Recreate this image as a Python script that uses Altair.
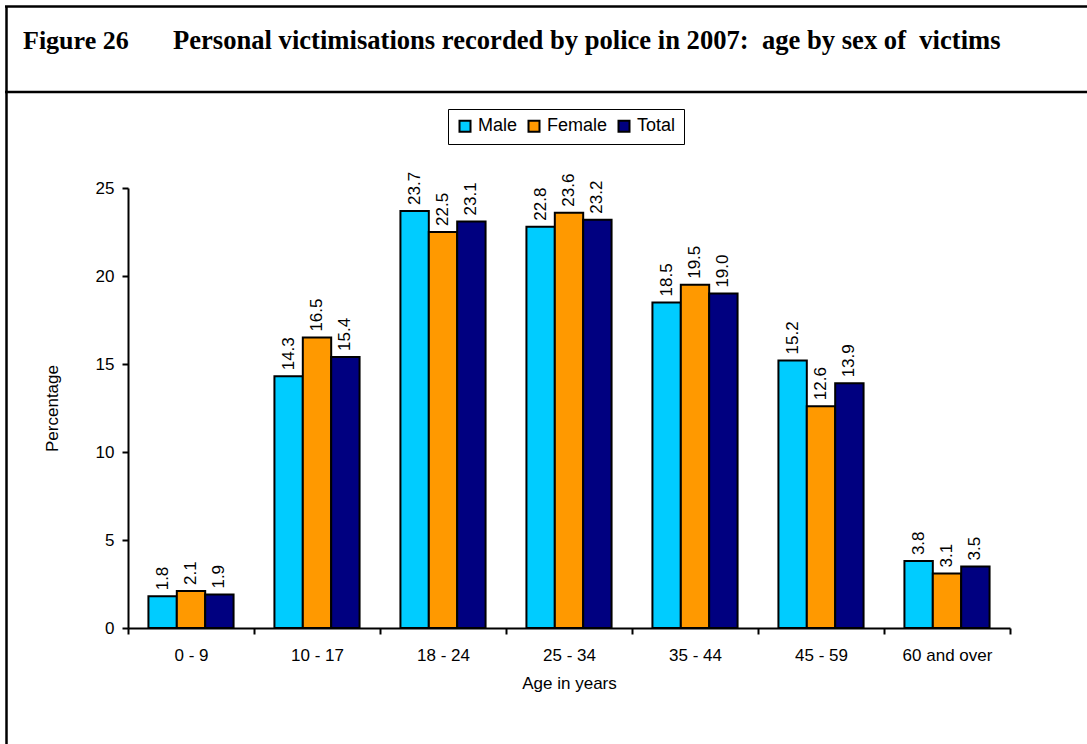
import altair as alt
import pandas as pd

ages = ["0 - 9", "10 - 17", "18 - 24", "25 - 34", "35 - 44", "45 - 59", "60 and over"]
series = ["Male", "Female", "Total"]
male = [1.8, 14.3, 23.7, 22.8, 18.5, 15.2, 3.8]
female = [2.1, 16.5, 22.5, 23.6, 19.5, 12.6, 3.1]
total = [1.9, 15.4, 23.1, 23.2, 19.0, 13.9, 3.5]
colors = ["#00CCFF", "#FF9900", "#000080"]
y_ticks = [0, 5, 10, 15, 20, 25]

rows = []
for s, vals in zip(series, [male, female, total]):
    for a, v in zip(ages, vals):
        rows.append({"age": a, "series": s, "value": v, "label": f"{v:.1f}"})
df = pd.DataFrame(rows)

FONT = "Liberation Sans"
NB = "\u00a0"

x_enc = alt.X("age:N", sort=ages,
              scale=alt.Scale(paddingInner=0, paddingOuter=0),
              axis=alt.Axis(title="Age in years", labelAngle=0, tickBand="extent",
                            labelPadding=13, titlePadding=12))
xo_enc = alt.XOffset("series:N", sort=series,
                     scale=alt.Scale(paddingInner=0, paddingOuter=0.72))
y_enc = alt.Y("value:Q", scale=alt.Scale(domain=[0, 25], nice=False),
              axis=alt.Axis(title="Percentage", values=y_ticks, grid=False,
                            labelPadding=8, titlePadding=34))

bars = alt.Chart(df).mark_bar(stroke="black", strokeWidth=2).encode(
    x=x_enc, xOffset=xo_enc, y=y_enc,
    color=alt.Color("series:N", sort=series,
                    scale=alt.Scale(domain=series, range=colors),
                    legend=alt.Legend(title=None, orient="none", direction="horizontal",
                                      legendX=320, legendY=-79,
                                      symbolType="square", symbolSize=121,
                                      symbolStrokeColor="black", symbolStrokeWidth=2,
                                      symbolOpacity=1,
                                      labelFontSize=18, labelFont=FONT, labelColor="black",
                                      labelOffset=4, columnPadding=6,
                                      strokeColor="black", padding=8,
                                      fillColor="white")),
)

labels = alt.Chart(df).mark_text(angle=270, align="left", baseline="middle", dx=6,
                                 fontSize=17, font=FONT, color="black").encode(
    x=alt.X("age:N", sort=ages), xOffset=alt.XOffset("series:N", sort=series),
    y="value:Q", text="label:N")

one = pd.DataFrame({"a": [0]})
left_line = alt.Chart(one).mark_rule(color="black", strokeWidth=2.5).encode(
    x=alt.value(-121.5), y=alt.value(-182), y2=alt.value(560))
top_line = alt.Chart(one).mark_rule(color="black", strokeWidth=2.5).encode(
    x=alt.value(-123), x2=alt.value(965), y=alt.value(-181.5))
sep_line = alt.Chart(one).mark_rule(color="black", strokeWidth=2.5).encode(
    x=alt.value(-123), x2=alt.value(965), y=alt.value(-96))
fig_txt = alt.Chart(one).mark_text(text="Figure 26", align="left", baseline="alphabetic",
                                   font="Liberation Serif", fontWeight="bold", fontSize=26,
                                   color="black").encode(
    x=alt.value(-105), y=alt.value(-139))
title_txt = alt.Chart(one).mark_text(
    text=f"Personal victimisations recorded by police in 2007:{NB} age by sex of{NB} victims",
    align="left", baseline="alphabetic", font="Liberation Serif", fontWeight="bold",
    fontSize=26.6, color="black").encode(x=alt.value(45), y=alt.value(-139))

chart = alt.layer(bars, labels, left_line, top_line, sep_line, fig_txt, title_txt).properties(
    width=882, height=440,
    autosize=alt.AutoSizeParams(type="none"),
    padding={"left": 128, "top": 188, "right": 77, "bottom": 116},
    background="white",
).configure_view(stroke=None).configure_axis(
    domainColor="black", domainWidth=2, tickColor="black", tickWidth=2, tickSize=6,
    labelFont=FONT, labelFontSize=17, labelColor="black",
    titleFont=FONT, titleFontSize=17, titleColor="black", titleFontWeight="normal",
)

chart.save("out.html", embed_options={"renderer": "svg", "actions": False})
